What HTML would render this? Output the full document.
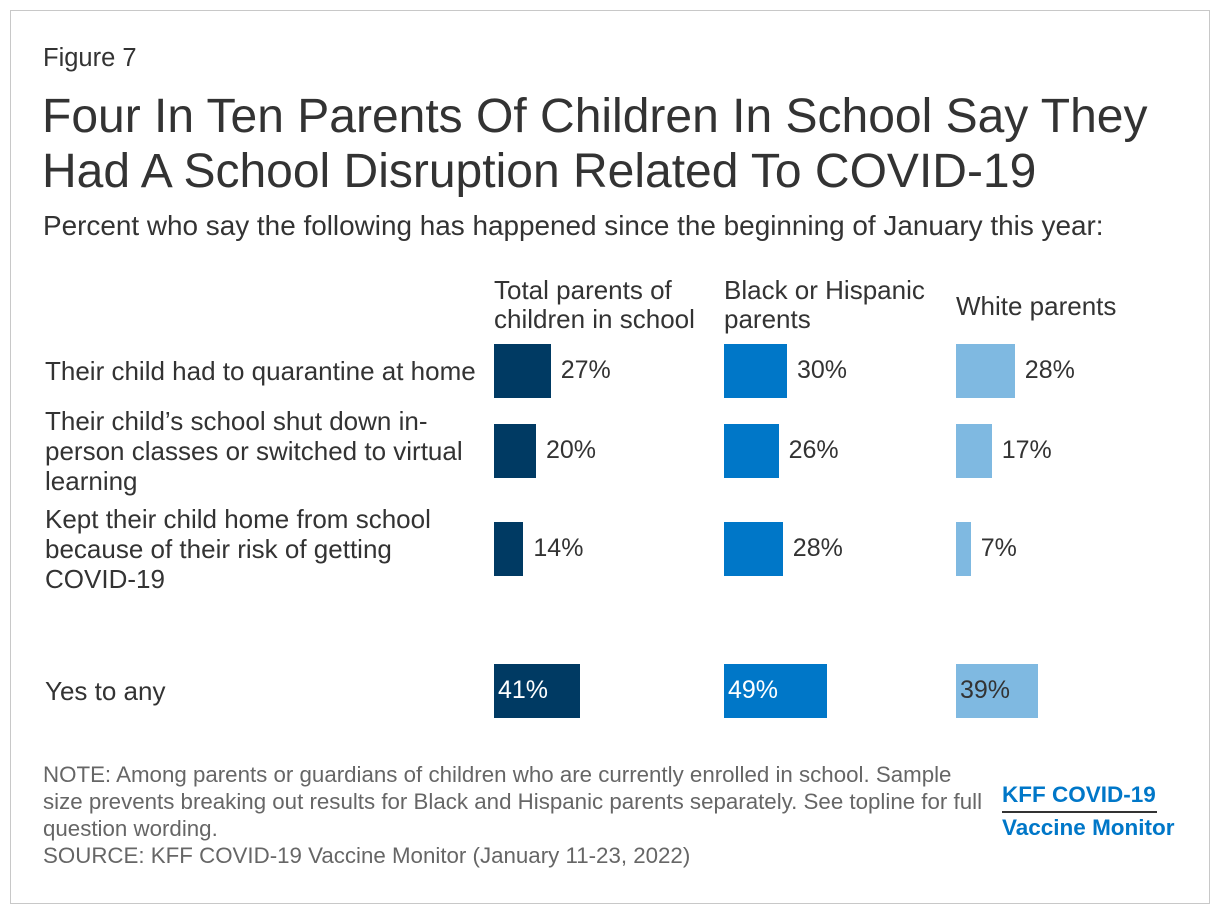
<!DOCTYPE html>
<html><head><meta charset="utf-8"><style>
body{margin:0;width:1220px;height:914px;background:#fff;font-family:"Liberation Sans",sans-serif;position:relative;overflow:hidden;color:#222}
.frame{position:absolute;left:10px;top:10px;width:1198px;height:892px;border:1px solid #c8c8c8}
.t{position:absolute;white-space:nowrap}
.bar{position:absolute}
.lbl{position:absolute;font-size:26px;color:#333;line-height:30px;white-space:nowrap}
</style></head><body>
<div class="frame"></div>
<div class="t" style="left:43px;top:44px;font-size:25.5px;color:#333">Figure 7</div>
<div class="t" style="left:42px;top:89px;font-size:48px;line-height:55px;color:#333">Four In Ten Parents Of Children In School Say They<br>Had A School Disruption Related To COVID-19</div>
<div class="t" style="left:43px;top:210px;font-size:27.9px;color:#333">Percent who say the following has happened since the beginning of January this year:</div>
<div class="t" style="left:494px;top:276px;font-size:26px;line-height:29px;color:#333">Total parents of<br>children in school</div>
<div class="t" style="left:724px;top:276px;font-size:26px;line-height:29px;color:#333">Black or Hispanic<br>parents</div>
<div class="t" style="left:956px;top:291px;font-size:26px;color:#333">White parents</div>
<div class="lbl" style="left:45px;top:356px">Their child had to quarantine at home</div>
<div class="lbl" style="left:45px;top:406px">Their child’s school shut down in-<br>person classes or switched to virtual<br>learning</div>
<div class="lbl" style="left:45px;top:504px">Kept their child home from school<br>because of their risk of getting<br>COVID-19</div>
<div class="lbl" style="left:45px;top:676px">Yes to any</div>
<div id="bars"></div>
<div class="t" style="left:43px;top:761px;font-size:22.3px;line-height:27px;color:#666">NOTE: Among parents or guardians of children who are currently enrolled in school. Sample<br>size prevents breaking out results for Black and Hispanic parents separately. See topline for full<br>question wording.<br>SOURCE: KFF COVID-19 Vaccine Monitor (January 11-23, 2022)</div>
<div class="t" style="left:1002px;top:782px;font-size:22.5px;font-weight:bold;color:#0077c8">KFF COVID-19</div>
<div style="position:absolute;left:1002px;top:811px;width:155px;height:2px;background:#333"></div>
<div class="t" style="left:1002px;top:815px;font-size:22.5px;font-weight:bold;color:#0077c8">Vaccine Monitor</div>
<script>
const categories=["quarantine","shutdown","kept-home","yes-any"];
const totalVals=[27,20,14,41];
const blackHispVals=[30,26,28,49];
const whiteVals=[28,17,7,39];
const series=[{k:"total",v:totalVals,x:494,c:"#003a63",inTxt:"#fff"},{k:"black-hispanic",v:blackHispVals,x:724,c:"#0077c8",inTxt:"#fff"},{k:"white",v:whiteVals,x:956,c:"#7fb9e1",inTxt:"#333"}];
const rowTop=[344,424,522,664];
const sx=v=>v*2.1;
const root=document.getElementById('bars');
series.forEach(s=>{s.v.forEach((v,i)=>{
 const b=document.createElement('div');b.className='bar';
 
 
 b.style.cssText=`left:${s.x}px;top:${rowTop[i]}px;width:${sx(v)}px;height:54px;background:${s.c}`;
 root.appendChild(b);
 const t=document.createElement('div');t.className='t';
 
 
 t.textContent=v+'%';
 const last=i===3;
 t.style.cssText=`left:${last?s.x+4:s.x+sx(v)+10}px;top:${rowTop[i]+12}px;font-size:25px;color:${last?s.inTxt:'#333'}`;
 root.appendChild(t);
});});
</script>
</body></html>
